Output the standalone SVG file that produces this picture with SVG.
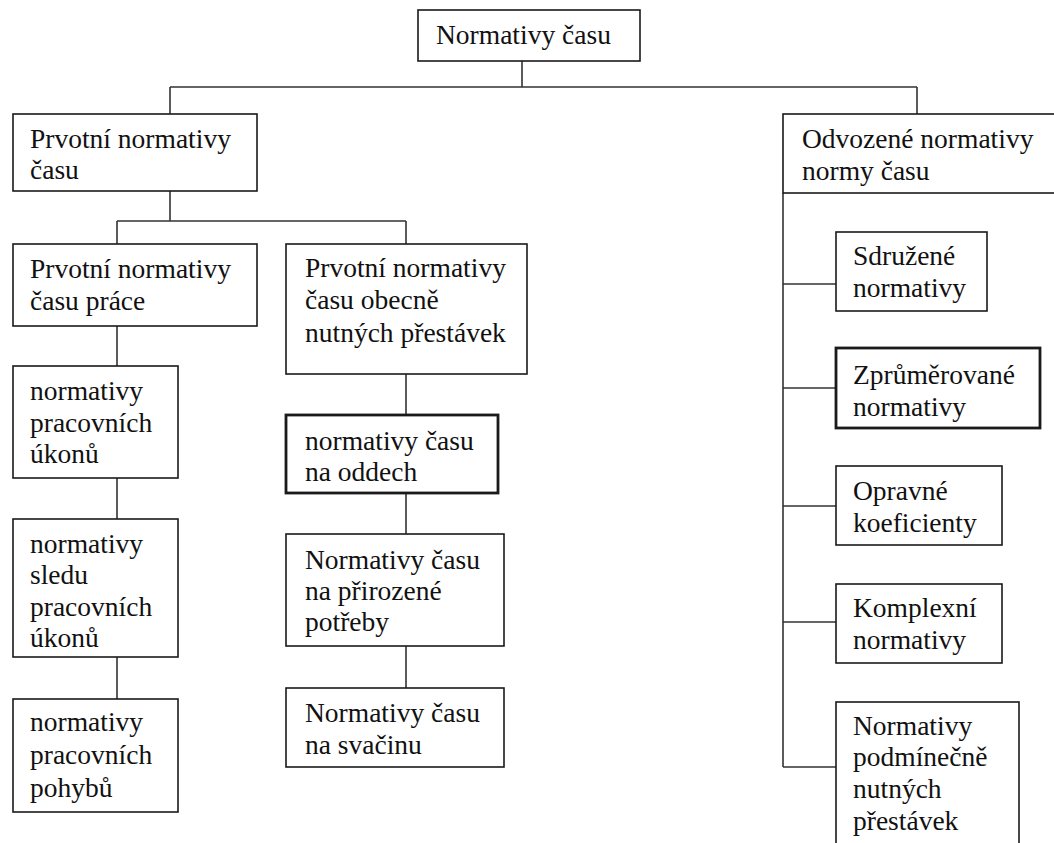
<svg xmlns="http://www.w3.org/2000/svg" width="1054" height="843" viewBox="0 0 1054 843">
<style>
.box{fill:#fff;stroke:#1a1a1a;stroke-width:1.6}
.thick{stroke-width:2.8}
text{font-family:'Liberation Serif','Times New Roman',serif;font-size:27.5px;fill:#111}
.c{fill:none;stroke:#333;stroke-width:1.6}
</style>
<rect width="1054" height="843" fill="#fff"/>
<g id="connectors">
<path class="c" d="M522,61 V87 M170,87 H917 M170,87 V114 M917,87 V114"/>
<path class="c" d="M170,191 V221 M117,221 H406 M117,221 V244 M406,221 V244"/>
<path class="c" d="M117,326 V366 M117,478 V519 M117,657 V699"/>
<path class="c" d="M406,374 V415 M406,493 V534 M406,646 V688"/>
<path class="c" d="M783,193 V767 M783,284 H836 M783,388 H836 M783,506 H836 M783,622 H836 M783,767 H836"/>
</g>
<g id="n0"><rect class="box" x="418" y="10" width="222" height="51"/><text x="436" y="44">Normativy času</text></g>
<g id="n1"><rect class="box" x="13" y="114" width="244" height="77" stroke-width="2"/><text x="30" y="148">Prvotní normativy</text><text x="30" y="179">času</text></g>
<g id="n2"><rect class="box" x="783" y="114" width="280" height="79"/><text x="802" y="148">Odvozené normativy</text><text x="802" y="180">normy času</text></g>
<g id="n3"><rect class="box" x="13" y="244" width="244" height="82" stroke-width="2"/><text x="30" y="278">Prvotní normativy</text><text x="30" y="310">času práce</text></g>
<g id="n4"><rect class="box" x="286" y="244" width="241" height="130"/><text x="305" y="277">Prvotní normativy</text><text x="305" y="309">času obecně</text><text x="305" y="342">nutných přestávek</text></g>
<g id="n5"><rect class="box" x="13" y="366" width="165" height="112"/><text x="30" y="400">normativy</text><text x="30" y="432">pracovních</text><text x="30" y="463">úkonů</text></g>
<g id="n6"><rect class="box" x="13" y="519" width="165" height="138" stroke-width="2"/><text x="30" y="553">normativy</text><text x="30" y="584">sledu</text><text x="30" y="616">pracovních</text><text x="30" y="647">úkonů</text></g>
<g id="n7"><rect class="box" x="13" y="699" width="165" height="113" stroke-width="2"/><text x="30" y="731">normativy</text><text x="30" y="764">pracovních</text><text x="30" y="797">pohybů</text></g>
<g id="n8"><rect class="box thick" x="286" y="415" width="212" height="78"/><text x="305" y="450">normativy času</text><text x="305" y="481">na oddech</text></g>
<g id="n9"><rect class="box" x="286" y="534" width="218" height="112" stroke-width="2.2"/><text x="305" y="569">Normativy času</text><text x="305" y="600">na přirozené</text><text x="305" y="631">potřeby</text></g>
<g id="n10"><rect class="box" x="286" y="688" width="218" height="79"/><text x="305" y="722">Normativy času</text><text x="305" y="754">na svačinu</text></g>
<g id="n11"><rect class="box" x="836" y="232" width="151" height="79"/><text x="853" y="265">Sdružené</text><text x="853" y="297">normativy</text></g>
<g id="n12"><rect class="box thick" x="836" y="348" width="204" height="80"/><text x="853" y="384">Zprůměrované</text><text x="853" y="416">normativy</text></g>
<g id="n13"><rect class="box" x="836" y="466" width="166" height="79"/><text x="853" y="500">Opravné</text><text x="853" y="532">koeficienty</text></g>
<g id="n14"><rect class="box" x="836" y="584" width="166" height="79"/><text x="853" y="617">Komplexní</text><text x="853" y="649">normativy</text></g>
<g id="n15"><rect class="box" x="836" y="702" width="183" height="150"/><text x="853" y="735">Normativy</text><text x="853" y="766">podmínečně</text><text x="853" y="798">nutných</text><text x="853" y="830">přestávek</text></g>
</svg>
